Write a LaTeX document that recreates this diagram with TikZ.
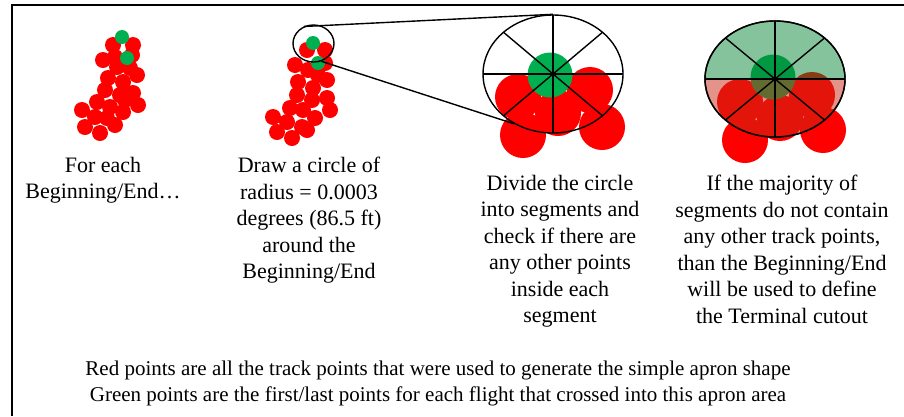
\documentclass[tikz,border=0pt]{standalone}
\usepackage{fontspec}
\setmainfont{Liberation Serif}
\usetikzlibrary{shapes.geometric}

\definecolor{trackred}{RGB}{255,0,0}
\definecolor{endgreen}{RGB}{0,176,80}
\definecolor{freegreen}{RGB}{0,130,50}
\definecolor{busyred}{RGB}{200,40,20}

\begin{document}
\begin{tikzpicture}[x=1pt, y=-1pt] %, image coordinates

\tikzset{
  caption/.style={
    align=center,
    inner sep=0pt,
    anchor=north,
    font=\fontsize{22}{26.5}\selectfont,
  },
  ring/.style={
    ellipse,
    draw,
    line width=1.4pt,
    inner sep=0pt,
  },
  spoke/.style={line width=1.4pt},
}

  \useasboundingbox (0,0) rectangle (904,416);

  % Frame
  \draw[line width=2pt] (904,4.5) -- (12,4.5) -- (12,416);

  % Panel 1: track points
  \foreach \x/\y in {113/45,133/45,103/60,115/57,132/55,117/67,130/68,137/75,
                     108/78,123/82,105/90,120/95,133/93,138/105,97/102,110/107,
                     123/112,82/110,95/117,107/118,115/125,85/127,100/133,125/100}
    \fill[trackred] (\x,\y) circle[radius=8];
  \foreach \x/\y in {122/37,127/58}
    \fill[endgreen] (\x,\y) circle[radius=7];

  % Panel 2: track points and small circle
  \foreach \x/\y in {307/50,325/50,295/65,308/70,325/63,327/80,298/82,313/88,
                     297/95,327/98,290/108,303/110,315/118,330/110,273/117,
                     287/122,302/127,277/132,292/138,307/130,312/100,318/75}
    \fill[trackred] (\x,\y) circle[radius=8];
  \foreach \x/\y in {313/43,318/63}
    \fill[endgreen] (\x,\y) circle[radius=7];
  \node[ring, minimum width=41pt, minimum height=37pt] (zoomring) at (313.5,43.5) {};

  % Panel 3: segments
  \foreach \x/\y in {518/97,590/90,558/113,523/135,602/127}
    \fill[trackred] (\x,\y) circle[radius=23];
  \fill[endgreen] (550,75) circle[radius=22.5];
  \node[ring, minimum width=140pt, minimum height=118pt] (bigring) at (553,74) {};
  \foreach \a in {0,45,90,135}
    \draw[spoke] ([shift={(\a:70 and 59)}]bigring.center)
              -- ([shift={(\a+180:70 and 59)}]bigring.center);

  % Zoom lines
  \draw[line width=1.4pt] (zoomring.120) -- (bigring.north);
  \draw[line width=1.4pt] (zoomring.-66) -- (bigring.232);

  % Panel 4: result
  \foreach \x/\y in {740/102,812/95,780/118,745/140,823/130}
    \fill[trackred] (\x,\y) circle[radius=23];
  \fill[endgreen] (773,77) circle[radius=22.5];
  \node[ring, minimum width=140pt, minimum height=116pt] (halfring) at (775,79) {};
  \fill[freegreen, opacity=0.48] ([shift={(180:70 and 58)}]halfring.center)
    arc[start angle=180, end angle=360, x radius=70, y radius=58] -- cycle;
  \fill[busyred, opacity=0.5] ([shift={(0:70 and 58)}]halfring.center)
    arc[start angle=0, end angle=180, x radius=70, y radius=58] -- cycle;
  \node[ring, minimum width=140pt, minimum height=116pt] at (halfring.center) {};
  \foreach \a in {0,45,90,135}
    \draw[spoke] ([shift={(\a:70 and 58)}]halfring.center)
              -- ([shift={(\a+180:70 and 58)}]halfring.center);

  % Captions
  \node[caption] (txtbegin) at (103,157) {For each\\Beginning/End\ldots};
  \node[caption] (txtcircle) at (309,157) {Draw a circle of\\radius = 0.0003\\degrees (86.5 ft)\\around the\\Beginning/End};
  \node[caption] (txtdivide) at (560,175) {Divide the circle\\into segments and\\check if there are\\any other points\\inside each\\segment};
  \node[caption] (txtmajority) at (782,175) {If the majority of\\segments do not contain\\any other track points,\\than the Beginning/End\\will be used to define\\the Terminal cutout};

  % Legend
  \node[caption, font=\fontsize{21}{25.7}\selectfont] (legend) at (438,361)
    {Red points are all the track points that were used to generate the simple apron shape\\
     Green points are the first/last points for each flight that crossed into this apron area};
\end{tikzpicture}
\end{document}
